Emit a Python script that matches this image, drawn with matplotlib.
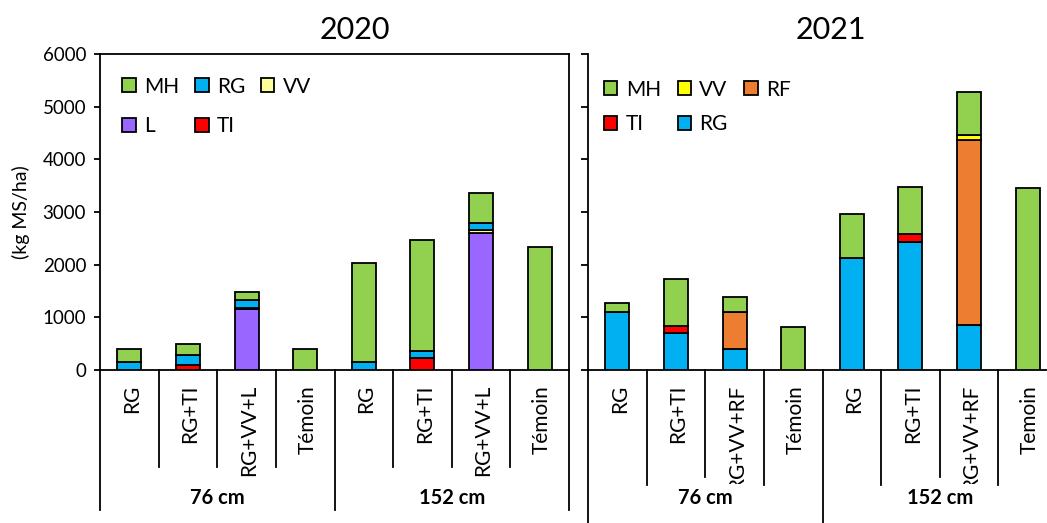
import numpy as np
import matplotlib
matplotlib.use("Agg")
import matplotlib.pyplot as plt
from matplotlib.patches import Patch
from matplotlib.transforms import Bbox

plt.rcParams["font.family"] = ["Lato", "DejaVu Sans"]

# --- Données ---
groupes = ["76 cm", "152 cm"]
cats_2020 = ["RG", "RG+TI", "RG+VV+L", "Témoin", "RG", "RG+TI", "RG+VV+L", "Témoin"]
cats_2021 = ["RG", "RG+TI", "RG+VV+RF", "Témoin", "RG", "RG+TI", "RG+VV+RF", "Temoin"]

# 2020 (ordre d'empilement : TI, L, VV, RG, MH)
ti_2020 = [0, 100, 0, 0, 0, 220, 0, 0]
l_2020 = [0, 0, 1150, 0, 0, 0, 2600, 0]
vv_2020 = [0, 0, 20, 0, 0, 0, 55, 0]
rg_2020 = [150, 190, 160, 0, 160, 150, 135, 0]
mh_2020 = [240, 200, 160, 390, 1880, 2100, 570, 2340]

# 2021 (ordre d'empilement : RG, TI, RF, VV, MH)
rg_2021 = [1100, 700, 395, 0, 2130, 2430, 850, 0]
ti_2021 = [0, 140, 0, 0, 0, 160, 0, 0]
rf_2021 = [0, 0, 705, 0, 0, 0, 3510, 0]
vv_2021 = [0, 0, 10, 0, 0, 0, 110, 0]
mh_2021 = [165, 880, 270, 820, 830, 890, 800, 3450]

COUL = {"MH": "#92D050", "RG": "#00B0F0", "VV20": "#FFFF99", "VV21": "#FFFF00",
        "L": "#9966FF", "TI": "#FF0000", "RF": "#ED7D31"}

W, H = 1047, 523
fig = plt.figure(figsize=(W / 100, H / 100), dpi=100)

def px_ax(x0, x1, y0, y1):
    return fig.add_axes([x0 / W, 1 - y1 / H, (x1 - x0) / W, (y1 - y0) / H])

ax1 = px_ax(100, 569, 54, 370)
ax2 = px_ax(588, 1057, 54, 370)

def empiler(ax, couches):
    x = np.arange(8)
    bas = np.zeros(8)
    for nom, vals, coul in couches:
        vals = np.array(vals, dtype=float)
        m = vals > 0
        ax.bar(x[m], vals[m], bottom=bas[m], width=0.41, color=coul,
               edgecolor="black", linewidth=1.3, zorder=3)
        bas += vals

empiler(ax1, [("TI", ti_2020, COUL["TI"]), ("L", l_2020, COUL["L"]),
              ("VV", vv_2020, COUL["VV20"]), ("RG", rg_2020, COUL["RG"]),
              ("MH", mh_2020, COUL["MH"])])
empiler(ax2, [("RG", rg_2021, COUL["RG"]), ("TI", ti_2021, COUL["TI"]),
              ("RF", rf_2021, COUL["RF"]), ("VV", vv_2021, COUL["VV21"]),
              ("MH", mh_2021, COUL["MH"])])

for ax in (ax1, ax2):
    ax.set_xlim(-0.5, 7.5)
    ax.set_ylim(0, 6000)
    ax.set_yticks(np.arange(0, 6001, 1000))
    ax.set_xticks([])
    for s in ax.spines.values():
        s.set_linewidth(1.3)
    ax.tick_params(axis="y", direction="out", length=4, width=1.3, labelsize=13.5, pad=6)

ax2.spines["top"].set_visible(False)
ax2.spines["right"].set_visible(False)
ax2.tick_params(axis="y", labelleft=False, length=5)

ax1.set_ylabel("(kg MS/ha)", fontsize=14, labelpad=9)

def axe_x(ax, cats, long_int, long_grp, clip_bas=None):
    tr = ax.get_xaxis_transform()
    for i, lab in enumerate(cats):
        t = ax.text(i + 0.04, -0.047, lab, transform=tr, rotation=90, ha="center", va="top",
                    fontsize=15)
        if clip_bas is not None:
            t.set_clip_on(True)
            t.set_clip_box(Bbox([[0, H - clip_bas], [W, H]]))
    for b in range(9):
        xb = b - 0.5
        if b % 4 == 0:
            ax.plot([xb, xb], [0, -long_grp], transform=tr, color="black", lw=1.3, clip_on=False)
        else:
            ax.plot([xb, xb], [0, -long_int[b]], transform=tr, color="black", lw=1.3, clip_on=False)
    for g, nom in enumerate(groupes):
        ax.text(1.5 + 4 * g, -0.405, nom, transform=tr, ha="center", va="center",
                fontsize=14.5, fontweight="bold")

axe_x(ax1, cats_2020, [0, 0.307, 0.307, 0.307, 0, 0.307, 0.307, 0.307, 0], 0.443)
axe_x(ax2, cats_2021, [0, 0.364, 0.338, 0.364, 0, 0.364, 0.338, 0.364, 0], 0.6, clip_bas=484)

# --- Légendes ---
def legende(ax, noms, couls, x0, y0, cs, ls):
    poignees = [Patch(facecolor=c, edgecolor="black", linewidth=1.3) for c in couls]
    ax.legend(poignees, noms, ncol=3, frameon=False, fontsize=15,
              loc="upper left", bbox_to_anchor=(x0, y0),
              handlelength=0.65, handleheight=0.65, handletextpad=0.4,
              columnspacing=cs, labelspacing=ls, borderaxespad=0)

legende(ax1, ["MH", "L", "RG", "TI", "VV"],
        [COUL["MH"], COUL["L"], COUL["RG"], COUL["TI"], COUL["VV20"]], 0.03, 0.955, 0.75, 0.95)
legende(ax2, ["MH", "TI", "VV", "RG", "RF"],
        [COUL["MH"], COUL["TI"], COUL["VV21"], COUL["RG"], COUL["RF"]], 0.016, 0.945, 0.8, 0.7)

fig.text(355 / W, 1 - 30 / H, "2020", ha="center", va="center", fontsize=22)
fig.text(831 / W, 1 - 30 / H, "2021", ha="center", va="center", fontsize=22)

fig.savefig("out.png", dpi=100)
